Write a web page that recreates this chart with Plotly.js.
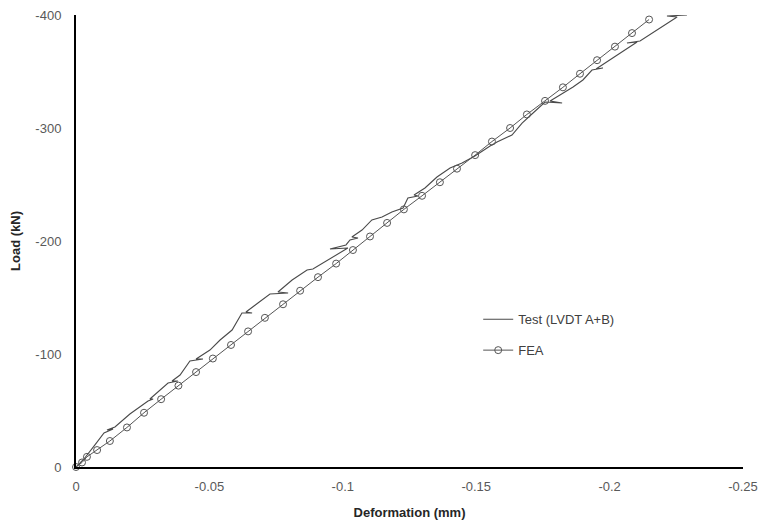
<!DOCTYPE html>
<html>
<head>
<meta charset="utf-8">
<script src="https://cdn.plot.ly/plotly-3.0.1.min.js"></script>
<style>html,body{margin:0;padding:0;background:#fff;}#chart{width:762px;height:523px;}</style>
</head>
<body>
<div id="chart"></div>
<script>
// FEA results
var feaDeformation = [0, -0.00225, -0.0041, -0.0079, -0.0127, -0.0191, -0.0255, -0.0319, -0.0384, -0.0450,
  -0.0513, -0.0581, -0.0645, -0.0708, -0.0776, -0.0840, -0.0907, -0.0975, -0.1038, -0.1102,
  -0.1166, -0.1229, -0.1297, -0.1364, -0.1428, -0.1496, -0.1559, -0.1627, -0.1690, -0.1758,
  -0.1825, -0.1889, -0.1953, -0.2020, -0.2084, -0.2148];
var feaLoad = [0, -4, -9, -15, -23, -35, -48, -60, -72, -84,
  -96, -108, -120, -132, -144, -156, -168, -180, -192, -204,
  -216, -228, -240, -252, -264, -276, -288, -300, -312, -324,
  -336, -348, -360, -372, -384, -396];

// Test (LVDT A+B)
var testDeformation = [0, -0.0030, -0.0071, -0.0105, -0.0139, -0.0116, -0.0146, -0.0202, -0.0270, -0.0289,
  -0.0277, -0.0304, -0.0345, -0.0382, -0.0360, -0.0390, -0.0427, -0.0476, -0.0450, -0.0502,
  -0.0540, -0.0585, -0.0603, -0.0622, -0.0660, -0.0637, -0.0682, -0.0727, -0.0795, -0.0757,
  -0.0810, -0.0866, -0.0888, -0.0907, -0.0960, -0.1019, -0.0952, -0.1012, -0.1027, -0.1057,
  -0.1034, -0.1072, -0.1109, -0.1147, -0.1184, -0.1226, -0.1244, -0.1282, -0.1267, -0.1308,
  -0.1353, -0.1402, -0.1447, -0.1495, -0.1552, -0.1578, -0.1634, -0.1672, -0.1709, -0.1758,
  -0.1822, -0.1777, -0.1814, -0.1863, -0.1900, -0.1934, -0.1975, -0.1949, -0.2103, -0.2065,
  -0.2114, -0.2253, -0.2215, -0.2290, -0.2271];
var testLoad = [0, -7.1, -19.5, -30.1, -33.6, -32.7, -35.4, -46.9, -58.4, -60.2,
  -60.2, -65.5, -74.3, -76.1, -76.1, -81.4, -93.8, -95.6, -95.6, -103.5,
  -112.4, -121.2, -128.3, -136.3, -136.3, -137.2, -145.1, -153.1, -154.0, -154.9,
  -165.5, -174.3, -175.2, -177.9, -185.0, -193.8, -192.9, -196.5, -200.9, -202.7,
  -203.5, -209.7, -218.6, -221.2, -225.7, -229.2, -238.1, -239.8, -240.7, -246.9,
  -256.6, -264.6, -269.0, -275.2, -284.1, -287.6, -293.8, -304.4, -312.4, -323.0,
  -322.1, -323.9, -329.2, -336.3, -342.5, -351.3, -353.1, -352.2, -376.1, -375.2,
  -377.0, -398.2, -399.1, -400.0, -400.0];

var xTickVals = [0, -0.05, -0.1, -0.15, -0.2, -0.25];
var xTickText = ['0', '-0.05', '-0.1', '-0.15', '-0.2', '-0.25'];
var yTickVals = [0, -100, -200, -300, -400];
var yTickText = ['0', '-100', '-200', '-300', '-400'];

var traces = [
  {
    x: testDeformation, y: testLoad, type: 'scatter', mode: 'lines',
    name: 'Test (LVDT A+B)', legendgroup: 'a',
    line: {color: '#4a4a4a', width: 1.1},
    cliponaxis: false
  },
  {
    x: feaDeformation, y: feaLoad, type: 'scatter', mode: 'lines+markers',
    name: 'FEA', legendgroup: 'b',
    line: {color: '#555555', width: 1},
    marker: {symbol: 'circle-open', size: 7, color: '#555555', line: {width: 1}},
    cliponaxis: false
  }
];

var layout = {
  width: 762, height: 523,
  margin: {l: 76, r: 19, t: 15, b: 56},
  paper_bgcolor: '#ffffff', plot_bgcolor: '#ffffff',
  font: {family: '"Liberation Sans", Arial, sans-serif', size: 13, color: '#595959'},
  showlegend: true,
  legend: {
    x: 0.603, y: 0.36, xanchor: 'left', yanchor: 'top',
    bgcolor: 'rgba(0,0,0,0)', traceorder: 'grouped', tracegroupgap: 11,
    font: {size: 13, color: '#404040'}
  },
  xaxis: {
    range: [0, -0.25], tickvals: xTickVals, ticktext: xTickText,
    showgrid: false, zeroline: false, showline: true, linecolor: '#000000', linewidth: 2,
    ticks: '', ticklabelstandoff: 6,
    tickfont: {size: 13, color: '#595959'},
    title: {text: 'Deformation (mm)', font: {size: 13, color: '#262626', weight: 'bold'}, standoff: 15},
    fixedrange: true
  },
  yaxis: {
    range: [0, -400], tickvals: yTickVals, ticktext: yTickText,
    showgrid: false, zeroline: false, showline: true, linecolor: '#000000', linewidth: 2,
    ticks: '', ticklabelstandoff: 10,
    tickfont: {size: 13, color: '#595959'},
    title: {text: 'Load (kN)', font: {size: 13, color: '#262626', weight: 'bold'}, standoff: 12},
    fixedrange: true
  }
};

Plotly.newPlot('chart', traces, layout, {displayModeBar: false, staticPlot: true});
</script>
</body>
</html>
